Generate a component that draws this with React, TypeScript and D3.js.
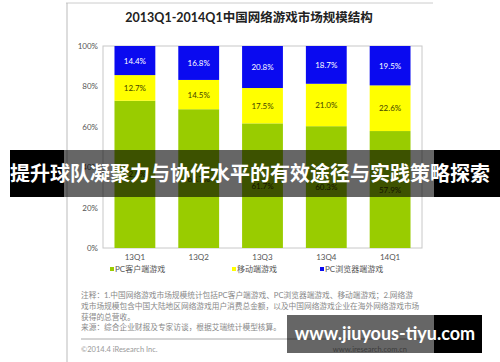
import React from 'react';
import * as d3 from 'd3';

const title = '2013Q1-2014Q1中国网络游戏市场规模结构';
const quarters = ['13Q1', '13Q2', '13Q3', '13Q4', '14Q1'];
const pcClient = [72.9, 68.7, 61.7, 60.3, 57.9];
const mobile = [12.7, 14.5, 17.5, 21.0, 22.6];
const browser = [14.4, 16.8, 20.8, 18.7, 19.5];
const yTicks = [0, 20, 40, 60, 80, 100];
const seriesNames = ['PC客户端游戏', '移动端游戏', 'PC浏览器端游戏'];
const notes = [
  '注释：1.中国网络游戏市场规模统计包括PC客户端游戏、PC浏览器端游戏、移动端游戏；2.网络游',
  '戏市场规模包含中国大陆地区网络游戏用户消费总金额，以及中国网络游戏企业在海外网络游戏市场',
  '获得的总营收。',
  '来源：综合企业财报及专家访谈，根据艾瑞统计模型核算。',
];
const banner = '提升球队凝聚力与协作水平的有效途径与实践策略探索';
const watermark = 'www.jiuyous-tiyu.com';

const colors = ['#99cc00', '#ffff00', '#0a0af0'];
const labelColors = ['#333300', '#444400', '#ffffff'];
const font = 'Lato, "Noto Sans CJK SC", sans-serif';

export default function App() {
  const width = 500;
  const height = 362;
  const plot = { left: 103, right: 422, top: 46, bottom: 248 };

  const x = d3.scaleBand<string>().domain(quarters).range([plot.left, plot.right]).paddingInner(0.36).paddingOuter(0.18);
  const y = d3.scaleLinear().domain([0, 100]).range([plot.bottom, plot.top]);

  const rows = quarters.map((q, i) => ({ q, a: pcClient[i], b: mobile[i], c: browser[i] }));
  const stacked = d3.stack<any>().keys(['a', 'b', 'c'])(rows);

  const legendX = [110, 232, 320];

  return (
    <svg width={width} height={height} style={{ position: 'absolute', left: 0, top: 0, background: '#fff' }}>
      {/* chart frame */}
      <line x1={66} x2={433} y1={3} y2={3} stroke="#ccc" />
      <line x1={67} x2={67} y1={3} y2={362} stroke="#bbb" />

      <text x={249} y={22} textAnchor="middle" fontFamily={font} fontWeight="bold" fontSize={12.5} fill="#222">{title}</text>

      {/* plot border */}
      <rect x={plot.left} y={plot.top} width={plot.right - plot.left} height={plot.bottom - plot.top} fill="none" stroke="#c8c8c8" />

      {yTicks.map(t => (
        <text key={t} x={98} y={y(t) + 3} textAnchor="end" fontFamily={font} fontSize={8} fill="#555">{t}%</text>
      ))}

      {stacked.map((s, si) => (
        <g key={si}>
          {s.map((d, i) => (
            <g key={i}>
              <rect x={x(quarters[i])} width={x.bandwidth()} y={y(d[1])} height={y(d[0]) - y(d[1])} fill={colors[si]} />
              <text x={(x(quarters[i]) as number) + x.bandwidth() / 2} y={y((d[0] + d[1]) / 2) + 3}
                textAnchor="middle" fontFamily={font} fontSize={8} fill={labelColors[si]}>
                {(d[1] - d[0]).toFixed(1)}%
              </text>
            </g>
          ))}
        </g>
      ))}

      {quarters.map(q => (
        <text key={q} x={(x(q) as number) + x.bandwidth() / 2} y={260} textAnchor="middle" fontFamily={font} fontSize={8} fill="#555">{q}</text>
      ))}

      {seriesNames.map((n, i) => (
        <g key={n} transform={`translate(${legendX[i]},272)`}>
          <rect x={0} y={-5} width={4} height={4} fill={colors[i]} />
          <text x={5} y={0} fontFamily={font} fontSize={8} fill="#555">{n}</text>
        </g>
      ))}

      {notes.map((n, i) => (
        <text key={i} x={81} y={298 + i * 10.8} fontFamily={font} fontSize={7.7} fill="#888">{n}</text>
      ))}
      <line x1={81} x2={420} y1={339} y2={339} stroke="#aaa" />
      <text x={81} y={352} fontFamily={font} fontSize={7.5} fill="#999">©2014.4 iResearch Inc.</text>
      <text x={407} y={352} textAnchor="end" fontFamily={font} fontSize={7.5} fill="#999">www.iresearch.com.cn</text>

      {/* banner overlay */}
      <rect x={10} y={150} width={54} height={47} fill="#000" />
      <rect x={64} y={150} width={370} height={47} fill="#000" fillOpacity={0.6} />
      <rect x={434} y={150} width={66} height={47} fill="#000" />
      <text x={250} y={181} textAnchor="middle" fontFamily={font} fontWeight="bold" fontSize={20} fill="#fff">{banner}</text>

      {/* watermark */}
      <rect x={287} y={315} width={147} height={38} fill="#000" fillOpacity={0.6} />
      <rect x={434} y={315} width={48} height={38} fill="#000" />
      <text x={385} y={340} textAnchor="middle" fontFamily={font} fontWeight="bold" fontSize={18} fill="#fff">{watermark}</text>
    </svg>
  );
}
